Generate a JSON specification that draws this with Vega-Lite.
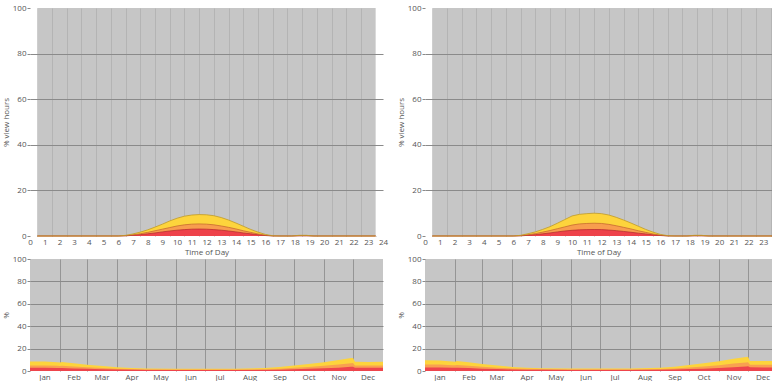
{
  "$schema": "https://vega.github.io/schema/vega-lite/v6.json",
  "padding": {"left": 2, "top": 4, "right": 0, "bottom": 0},
  "bounds": "flush",
  "columns": 2,
  "spacing": {"row": 23, "column": 42},
  "datasets": {
    "dayTL": [
      {"h": 0.5, "yellow": 0, "orange": 0, "red": 0},
      {"h": 6, "yellow": 0, "orange": 0, "red": 0},
      {"h": 6.5, "yellow": 0.3, "orange": 0.15, "red": 0.05},
      {"h": 7, "yellow": 0.9, "orange": 0.5, "red": 0.3},
      {"h": 7.5, "yellow": 1.7, "orange": 1.0, "red": 0.6},
      {"h": 8, "yellow": 2.7, "orange": 1.6, "red": 0.95},
      {"h": 8.5, "yellow": 3.9, "orange": 2.3, "red": 1.35},
      {"h": 9, "yellow": 5.2, "orange": 3.0, "red": 1.8},
      {"h": 9.5, "yellow": 6.6, "orange": 3.7, "red": 2.2},
      {"h": 10, "yellow": 7.8, "orange": 4.4, "red": 2.55},
      {"h": 10.5, "yellow": 8.7, "orange": 4.9, "red": 2.8},
      {"h": 11, "yellow": 9.2, "orange": 5.2, "red": 3.0},
      {"h": 11.5, "yellow": 9.4, "orange": 5.3, "red": 3.05},
      {"h": 12, "yellow": 9.3, "orange": 5.2, "red": 3.0},
      {"h": 12.5, "yellow": 8.9, "orange": 4.9, "red": 2.8},
      {"h": 13, "yellow": 8.1, "orange": 4.4, "red": 2.55},
      {"h": 13.5, "yellow": 7.0, "orange": 3.8, "red": 2.2},
      {"h": 14, "yellow": 5.7, "orange": 3.1, "red": 1.8},
      {"h": 14.5, "yellow": 4.3, "orange": 2.3, "red": 1.35},
      {"h": 15, "yellow": 2.9, "orange": 1.6, "red": 0.95},
      {"h": 15.5, "yellow": 1.7, "orange": 0.9, "red": 0.55},
      {"h": 16, "yellow": 0.7, "orange": 0.35, "red": 0.2},
      {"h": 16.5, "yellow": 0.1, "orange": 0.05, "red": 0},
      {"h": 17, "yellow": 0, "orange": 0, "red": 0},
      {"h": 17.8, "yellow": 0, "orange": 0, "red": 0},
      {"h": 18.3, "yellow": 0.3, "orange": 0.15, "red": 0.05},
      {"h": 18.8, "yellow": 0.3, "orange": 0.15, "red": 0.05},
      {"h": 19.3, "yellow": 0, "orange": 0, "red": 0},
      {"h": 23.5, "yellow": 0, "orange": 0, "red": 0}
    ],
    "dayTR": [
      {"h": 0.5, "yellow": 0, "orange": 0, "red": 0},
      {"h": 6, "yellow": 0, "orange": 0, "red": 0},
      {"h": 6.5, "yellow": 0.3, "orange": 0.15, "red": 0.05},
      {"h": 7, "yellow": 1.0, "orange": 0.55, "red": 0.3},
      {"h": 7.5, "yellow": 1.8, "orange": 1.05, "red": 0.6},
      {"h": 8, "yellow": 2.9, "orange": 1.7, "red": 0.95},
      {"h": 8.5, "yellow": 4.1, "orange": 2.4, "red": 1.35},
      {"h": 9, "yellow": 5.6, "orange": 3.2, "red": 1.8},
      {"h": 9.5, "yellow": 7.2, "orange": 4.0, "red": 2.2},
      {"h": 10, "yellow": 8.8, "orange": 4.8, "red": 2.5},
      {"h": 10.5, "yellow": 9.5, "orange": 5.3, "red": 2.7},
      {"h": 11, "yellow": 9.8, "orange": 5.5, "red": 2.8},
      {"h": 11.5, "yellow": 10.0, "orange": 5.6, "red": 2.85},
      {"h": 12, "yellow": 9.8, "orange": 5.5, "red": 2.8},
      {"h": 12.5, "yellow": 9.2, "orange": 5.1, "red": 2.6},
      {"h": 13, "yellow": 8.2, "orange": 4.5, "red": 2.35},
      {"h": 13.5, "yellow": 7.0, "orange": 3.8, "red": 2.0},
      {"h": 14, "yellow": 5.7, "orange": 3.1, "red": 1.65},
      {"h": 14.5, "yellow": 4.3, "orange": 2.3, "red": 1.25},
      {"h": 15, "yellow": 2.9, "orange": 1.6, "red": 0.9},
      {"h": 15.5, "yellow": 1.7, "orange": 0.9, "red": 0.5},
      {"h": 16, "yellow": 0.7, "orange": 0.35, "red": 0.2},
      {"h": 16.5, "yellow": 0.15, "orange": 0.05, "red": 0},
      {"h": 17, "yellow": 0, "orange": 0, "red": 0},
      {"h": 17.8, "yellow": 0, "orange": 0, "red": 0},
      {"h": 18.3, "yellow": 0.3, "orange": 0.15, "red": 0.05},
      {"h": 18.8, "yellow": 0.3, "orange": 0.15, "red": 0.05},
      {"h": 19.3, "yellow": 0, "orange": 0, "red": 0},
      {"h": 23.59, "yellow": 0, "orange": 0, "red": 0}
    ],
    "yearBL": [
      {"d": 0, "yellow": 8.5, "orange": 5.0, "red": 3.0},
      {"d": 15, "yellow": 8.5, "orange": 5.0, "red": 3.0},
      {"d": 28, "yellow": 7.8, "orange": 4.6, "red": 2.7},
      {"d": 31, "yellow": 7.6, "orange": 4.5, "red": 2.6},
      {"d": 33, "yellow": 8.0, "orange": 4.7, "red": 2.7},
      {"d": 45, "yellow": 7.0, "orange": 4.1, "red": 2.3},
      {"d": 59, "yellow": 5.6, "orange": 3.3, "red": 1.9},
      {"d": 75, "yellow": 4.5, "orange": 2.7, "red": 1.6},
      {"d": 90, "yellow": 3.3, "orange": 2.1, "red": 1.3},
      {"d": 105, "yellow": 2.7, "orange": 1.8, "red": 1.1},
      {"d": 120, "yellow": 2.3, "orange": 1.6, "red": 1.0},
      {"d": 150, "yellow": 2.1, "orange": 1.4, "red": 0.9},
      {"d": 181, "yellow": 2.0, "orange": 1.4, "red": 0.9},
      {"d": 212, "yellow": 2.1, "orange": 1.4, "red": 0.9},
      {"d": 243, "yellow": 2.6, "orange": 1.7, "red": 1.0},
      {"d": 258, "yellow": 3.5, "orange": 2.1, "red": 1.2},
      {"d": 273, "yellow": 4.8, "orange": 2.8, "red": 1.5},
      {"d": 288, "yellow": 6.2, "orange": 3.6, "red": 1.9},
      {"d": 304, "yellow": 7.8, "orange": 4.6, "red": 2.4},
      {"d": 319, "yellow": 9.8, "orange": 5.9, "red": 3.0},
      {"d": 332, "yellow": 11.5, "orange": 7.0, "red": 3.7},
      {"d": 334, "yellow": 11.7, "orange": 7.1, "red": 3.8},
      {"d": 336, "yellow": 8.2, "orange": 5.0, "red": 3.0},
      {"d": 350, "yellow": 8.0, "orange": 4.9, "red": 2.9},
      {"d": 365, "yellow": 8.3, "orange": 5.0, "red": 3.0}
    ],
    "yearBR": [
      {"d": 0, "yellow": 9.5, "orange": 5.8, "red": 3.2},
      {"d": 15, "yellow": 9.4, "orange": 5.7, "red": 3.2},
      {"d": 28, "yellow": 8.5, "orange": 5.2, "red": 2.9},
      {"d": 31, "yellow": 8.3, "orange": 5.1, "red": 2.8},
      {"d": 33, "yellow": 8.9, "orange": 5.4, "red": 3.0},
      {"d": 45, "yellow": 7.8, "orange": 4.7, "red": 2.6},
      {"d": 59, "yellow": 6.2, "orange": 3.7, "red": 2.1},
      {"d": 75, "yellow": 4.9, "orange": 3.0, "red": 1.7},
      {"d": 90, "yellow": 3.6, "orange": 2.3, "red": 1.4},
      {"d": 105, "yellow": 2.9, "orange": 1.9, "red": 1.2},
      {"d": 120, "yellow": 2.5, "orange": 1.7, "red": 1.1},
      {"d": 150, "yellow": 2.3, "orange": 1.5, "red": 1.0},
      {"d": 181, "yellow": 2.2, "orange": 1.5, "red": 1.0},
      {"d": 212, "yellow": 2.3, "orange": 1.5, "red": 1.0},
      {"d": 243, "yellow": 2.8, "orange": 1.8, "red": 1.1},
      {"d": 258, "yellow": 3.8, "orange": 2.3, "red": 1.3},
      {"d": 273, "yellow": 5.3, "orange": 3.1, "red": 1.7},
      {"d": 288, "yellow": 6.9, "orange": 4.0, "red": 2.1},
      {"d": 304, "yellow": 8.8, "orange": 5.2, "red": 2.7},
      {"d": 319, "yellow": 11.0, "orange": 6.6, "red": 3.4},
      {"d": 332, "yellow": 12.6, "orange": 7.7, "red": 4.1},
      {"d": 334, "yellow": 12.8, "orange": 7.8, "red": 4.2},
      {"d": 336, "yellow": 9.0, "orange": 5.6, "red": 3.3},
      {"d": 350, "yellow": 8.9, "orange": 5.5, "red": 3.2},
      {"d": 359.8, "yellow": 9.0, "orange": 5.5, "red": 3.2}
    ]
  },
  "concat": [
    {
      "width": 353, "height": 228,
      "view": {"fill": "#c6c6c6", "stroke": null},
      "data": {"name": "dayTL"},
      "encoding": {
        "x": {"field": "h", "type": "quantitative", "title": "Time of Day",
          "scale": {"domain": [0, 24], "nice": false, "zero": false},
          "axis": {
            "zindex": 0, "tickCount": 100,
            "values": [0,0.5,1,1.5,2,2.5,3,3.5,4,4.5,5,5.5,6,6.5,7,7.5,8,8.5,9,9.5,10,10.5,11,11.5,12,12.5,13,13.5,14,14.5,15,15.5,16,16.5,17,17.5,18,18.5,19,19.5,20,20.5,21,21.5,22,22.5,23,23.5,24],
            "labelExpr": "datum.value % 1 === 0 ? format(datum.value, 'd') : ''",
            "gridColor": {"condition": {"test": "datum.value % 1 !== 0", "value": "#b4b4b4"}, "value": "rgba(0,0,0,0)"}
          }
        }
      },
      "layer": [
        {"data": {"values": [{"h": 0, "h2": 0.5, "lo": 0, "hi": 100}, {"h": 23.5, "h2": 24, "lo": 0, "hi": 100}]},
         "mark": {"type": "rect", "color": "#ffffff"},
         "encoding": {"x2": {"field": "h2"}, "y2": {"field": "lo"},
           "y": {"field": "hi", "type": "quantitative", "title": "% view hours", "scale": {"domain": [0, 100]},
             "axis": {"zindex": 1, "tickCount": 100, "values": [0,20,40,60,80,100], "gridColor": {"condition": {"test": "datum.value > 0 && datum.value < 100", "value": "#8a8a8a"}, "value": "rgba(0,0,0,0)"}}}}},
        {"mark": {"type": "area", "color": "#fdd43c"}, "encoding": {"y": {"field": "yellow", "type": "quantitative", "title": "% view hours"}}},
        {"mark": {"type": "area", "color": "#f89d4e"}, "encoding": {"y": {"field": "orange", "type": "quantitative", "title": "% view hours"}}},
        {"mark": {"type": "area", "color": "#ee424a"}, "encoding": {"y": {"field": "red", "type": "quantitative", "title": "% view hours"}}},
        {"mark": {"type": "line", "color": "#b0282e", "strokeWidth": 0.7}, "encoding": {"y": {"field": "red", "type": "quantitative", "title": "% view hours"}}},
        {"mark": {"type": "line", "color": "#c0622c", "strokeWidth": 0.7}, "encoding": {"y": {"field": "orange", "type": "quantitative", "title": "% view hours"}}},
        {"mark": {"type": "line", "color": "#c09a26", "strokeWidth": 0.8}, "encoding": {"y": {"field": "yellow", "type": "quantitative", "title": "% view hours"}}}
      ]
    },
    {
      "width": 347, "height": 228,
      "view": {"fill": "#c6c6c6", "stroke": null},
      "data": {"name": "dayTR"},
      "encoding": {
        "x": {"field": "h", "type": "quantitative", "title": "Time of Day",
          "scale": {"domain": [0, 23.59], "nice": false, "zero": false},
          "axis": {
            "zindex": 0, "tickCount": 100,
            "values": [0,0.5,1,1.5,2,2.5,3,3.5,4,4.5,5,5.5,6,6.5,7,7.5,8,8.5,9,9.5,10,10.5,11,11.5,12,12.5,13,13.5,14,14.5,15,15.5,16,16.5,17,17.5,18,18.5,19,19.5,20,20.5,21,21.5,22,22.5,23,23.5],
            "labelExpr": "datum.value % 1 === 0 ? format(datum.value, 'd') : ''",
            "gridColor": {"condition": {"test": "datum.value % 1 !== 0", "value": "#b4b4b4"}, "value": "rgba(0,0,0,0)"}
          }
        }
      },
      "layer": [
        {"data": {"values": [{"h": 0, "h2": 0.5, "lo": 0, "hi": 100}]},
         "mark": {"type": "rect", "color": "#ffffff"},
         "encoding": {"x2": {"field": "h2"}, "y2": {"field": "lo"},
           "y": {"field": "hi", "type": "quantitative", "title": "% view hours", "scale": {"domain": [0, 100]},
             "axis": {"zindex": 1, "tickCount": 100, "values": [0,20,40,60,80,100], "gridColor": {"condition": {"test": "datum.value > 0 && datum.value < 100", "value": "#8a8a8a"}, "value": "rgba(0,0,0,0)"}}}}},
        {"mark": {"type": "area", "color": "#fdd43c"}, "encoding": {"y": {"field": "yellow", "type": "quantitative", "title": "% view hours"}}},
        {"mark": {"type": "area", "color": "#f89d4e"}, "encoding": {"y": {"field": "orange", "type": "quantitative", "title": "% view hours"}}},
        {"mark": {"type": "area", "color": "#ee424a"}, "encoding": {"y": {"field": "red", "type": "quantitative", "title": "% view hours"}}},
        {"mark": {"type": "line", "color": "#b0282e", "strokeWidth": 0.7}, "encoding": {"y": {"field": "red", "type": "quantitative", "title": "% view hours"}}},
        {"mark": {"type": "line", "color": "#c0622c", "strokeWidth": 0.7}, "encoding": {"y": {"field": "orange", "type": "quantitative", "title": "% view hours"}}},
        {"mark": {"type": "line", "color": "#c09a26", "strokeWidth": 0.8}, "encoding": {"y": {"field": "yellow", "type": "quantitative", "title": "% view hours"}}}
      ]
    },
    {
      "width": 353, "height": 112,
      "view": {"fill": "#c6c6c6", "stroke": null},
      "data": {"name": "yearBL"},
      "encoding": {
        "x": {"field": "d", "type": "quantitative", "title": null,
          "scale": {"domain": [0, 365], "nice": false, "zero": false},
          "axis": {
            "zindex": 0, "tickCount": 100,
            "values": [15,31,45,59,74,90,105,120,135,151,166,181,196,212,227,243,258,273,288,304,319,334,349],
            "labelExpr": "indexof([15,45,74,105,135,166,196,227,258,288,319,349], datum.value) >= 0 ? ['Jan','Feb','Mar','Apr','May','Jun','Jul','Aug','Sep','Oct','Nov','Dec'][indexof([15,45,74,105,135,166,196,227,258,288,319,349], datum.value)] : ''",
            "gridColor": {"condition": {"test": "indexof([15,45,74,105,135,166,196,227,258,288,319,349], datum.value) < 0", "value": "#959595"}, "value": "rgba(0,0,0,0)"}
          }
        }
      },
      "layer": [
        {"mark": {"type": "area", "color": "#fdd43c"}, "encoding": {"y": {"field": "yellow", "type": "quantitative", "title": "%", "scale": {"domain": [0, 100]},
          "axis": {"zindex": 1, "tickCount": 100, "values": [0,20,40,60,80,100], "gridColor": {"condition": {"test": "datum.value > 0 && datum.value < 100", "value": "#8a8a8a"}, "value": "rgba(0,0,0,0)"}}}}},
        {"mark": {"type": "area", "color": "#f8a150"}, "encoding": {"y": {"field": "orange", "type": "quantitative", "title": "%"}}},
        {"mark": {"type": "area", "color": "#ee454c"}, "encoding": {"y": {"field": "red", "type": "quantitative", "title": "%"}}}
      ]
    },
    {
      "width": 348, "height": 112,
      "view": {"fill": "#c6c6c6", "stroke": null},
      "data": {"name": "yearBR"},
      "encoding": {
        "x": {"field": "d", "type": "quantitative", "title": null,
          "scale": {"domain": [0, 359.8], "nice": false, "zero": false},
          "axis": {
            "zindex": 0, "tickCount": 100,
            "values": [15,31,45,59,74,90,105,120,135,151,166,181,196,212,227,243,258,273,288,304,319,334,349],
            "labelExpr": "indexof([15,45,74,105,135,166,196,227,258,288,319,349], datum.value) >= 0 ? ['Jan','Feb','Mar','Apr','May','Jun','Jul','Aug','Sep','Oct','Nov','Dec'][indexof([15,45,74,105,135,166,196,227,258,288,319,349], datum.value)] : ''",
            "gridColor": {"condition": {"test": "indexof([15,45,74,105,135,166,196,227,258,288,319,349], datum.value) < 0", "value": "#959595"}, "value": "rgba(0,0,0,0)"}
          }
        }
      },
      "layer": [
        {"mark": {"type": "area", "color": "#fdd43c"}, "encoding": {"y": {"field": "yellow", "type": "quantitative", "title": "%", "scale": {"domain": [0, 100]},
          "axis": {"zindex": 1, "tickCount": 100, "values": [0,20,40,60,80,100], "gridColor": {"condition": {"test": "datum.value > 0 && datum.value < 100", "value": "#8a8a8a"}, "value": "rgba(0,0,0,0)"}}}}},
        {"mark": {"type": "area", "color": "#f8a150"}, "encoding": {"y": {"field": "orange", "type": "quantitative", "title": "%"}}},
        {"mark": {"type": "area", "color": "#ee454c"}, "encoding": {"y": {"field": "red", "type": "quantitative", "title": "%"}}}
      ]
    }
  ],
  "config": {
    "font": "Open Sans",
    "view": {"stroke": null},
    "axis": {
      "labelFont": "Open Sans", "labelFontSize": 8, "labelColor": "#555555",
      "titleFont": "Open Sans", "titleFontSize": 8, "titleFontWeight": "normal", "titleColor": "#555555",
      "domain": false, "labelFlush": false, "labelOverlap": false, "labelBound": false, "gridWidth": 1
    },
    "axisX": {"ticks": false, "labelPadding": 2, "titlePadding": 2},
    "axisY": {"ticks": true, "tickSize": 3, "tickColor": "#8a8a8a", "labelPadding": 1, "titlePadding": 2}
  }
}
